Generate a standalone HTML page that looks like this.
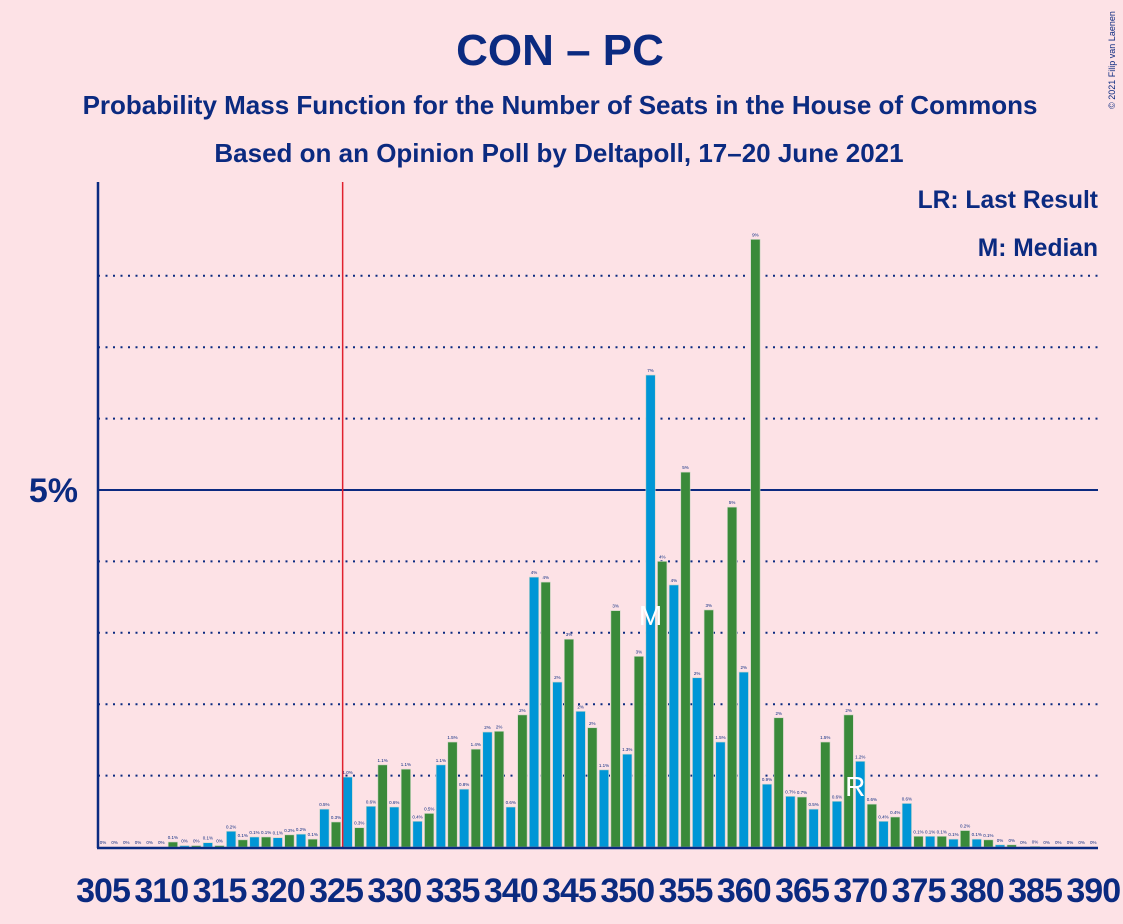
<!DOCTYPE html>
<html><head><meta charset="utf-8"><style>
html,body{margin:0;padding:0;background:#fde2e6;}
svg{display:block;font-family:"Liberation Sans",sans-serif;}
</style></head><body>
<svg id="chart" width="1123" height="924" viewBox="0 0 1123 924" xmlns="http://www.w3.org/2000/svg">
<rect x="0" y="0" width="1123" height="924" fill="#fde2e6"/>
<text x="560" y="65" text-anchor="middle" font-size="44" font-weight="bold" fill="#0b2a80">CON – PC</text>
<text x="560" y="114" text-anchor="middle" font-size="26" font-weight="bold" fill="#0b2a80">Probability Mass Function for the Number of Seats in the House of Commons</text>
<text x="559" y="162" text-anchor="middle" font-size="26" font-weight="bold" fill="#0b2a80">Based on an Opinion Poll by Deltapoll, 17–20 June 2021</text>
<text x="1098" y="208" text-anchor="end" font-size="24.6" font-weight="bold" fill="#0b2a80">LR: Last Result</text>
<text x="1098" y="256" text-anchor="end" font-size="24.6" font-weight="bold" fill="#0b2a80">M: Median</text>
<text x="1115" y="60" transform="rotate(-90 1115 60)" text-anchor="middle" font-size="9" fill="#0b2a80">© 2021 Filip van Laenen</text>
<g id="grid"></g>
<g id="bars"></g>
<g id="labels"></g>
<g id="xaxis"></g>
</svg>
<script>
const seats = [305,306,307,308,309,310,311,312,313,314,315,316,317,318,319,320,321,322,323,324,325,326,327,328,329,330,331,332,333,334,335,336,337,338,339,340,341,342,343,344,345,346,347,348,349,350,351,352,353,354,355,356,357,358,359,360,361,362,363,364,365,366,367,368,369,370,371,372,373,374,375,376,377,378,379,380,381,382,383,384,385,386,387,388,389,390];
const probs = [0,0,0,0,0,0,0.07,0.02,0.02,0.06,0.02,0.22,0.1,0.14,0.14,0.13,0.17,0.18,0.11,0.53,0.35,0.98,0.27,0.57,1.15,0.56,1.09,0.36,0.47,1.15,1.47,0.81,1.37,1.61,1.62,0.56,1.85,3.78,3.71,2.31,2.91,1.9,1.67,1.08,3.31,1.3,2.67,6.61,4.0,3.67,5.25,2.37,3.32,1.47,4.76,2.45,8.51,0.88,1.81,0.71,0.7,0.53,1.47,0.64,1.85,1.2,0.6,0.36,0.42,0.61,0.15,0.15,0.15,0.11,0.23,0.11,0.1,0.03,0.03,0,0.01,0,0,0,0,0];
const gridPercents = [1,2,3,4,6,7,8];
const xTicks = [305,310,315,320,325,330,335,340,345,350,355,360,365,370,375,380,385,390];
const lastResult = 326;
const median = 352;

const NS = "http://www.w3.org/2000/svg";
const X0 = 103, STEP = 11.65, BASE = 847, PPP = 71.4;
function xs(s){ return X0 + (s - 305) * STEP; }
function ys(p){ return BASE - p * PPP; }
function mk(tag, attrs, parent){ const e=document.createElementNS(NS,tag); for(const k in attrs) e.setAttribute(k,attrs[k]); parent.appendChild(e); return e; }

const grid = document.getElementById('grid');
gridPercents.forEach(p=>{
  const l = mk('line',{x1:98,x2:1098,y1:ys(p),y2:ys(p),stroke:'#0b2a80','stroke-width':2,'stroke-dasharray':'2,5.5'},grid);
  
  
});
const five = mk('line',{x1:98,x2:1098,y1:ys(5),y2:ys(5),stroke:'#0b2a80','stroke-width':2},grid);


const fl = mk('text',{x:78,y:ys(5)+12,'text-anchor':'end','font-size':34,'font-weight':'bold',fill:'#0b2a80'},grid);
fl.textContent='5%';



const bars = document.getElementById('bars');
const labels = document.getElementById('labels');
seats.forEach((s,i)=>{
  const p = probs[i];
  const h = p*PPP;
  const r = mk('rect',{x:xs(s)-4.7,y:BASE-h,width:9.4,height:h,fill:(s%2===0)?'#0096d6':'#3a8a3a',stroke:'#cfd7c8','stroke-width':0.6},bars);
  
  
  const t = mk('text',{x:xs(s),y:BASE-h-3,'text-anchor':'middle','font-size':4.5,fill:'#0b2a80'},labels);
  let txt;
  if (p < 0.05) txt = '0%';
  else if (p < 1.5) txt = p.toFixed(1) + '%';
  else txt = Math.round(p) + '%';
  t.textContent = txt;
  
  
});
const mi = seats.indexOf(median);
const mt = mk('text',{x:xs(median),y:ys(probs[mi])+250,'text-anchor':'middle','font-size':28,fill:'#ffffff'},labels);
mt.textContent='M';


const rt = mk('text',{x:xs(370)-5,y:BASE-0.6*PPP-8,'text-anchor':'middle','font-size':28,fill:'#ffffff'},labels);
rt.textContent='R';



const xa = document.getElementById('xaxis');
const lr = mk('line',{x1:xs(lastResult)-5,x2:xs(lastResult)-5,y1:182,y2:BASE,stroke:'#e0202e','stroke-width':1.5},xa);


const ya = mk('line',{x1:98,x2:98,y1:182,y2:BASE+1,stroke:'#0b2a80','stroke-width':2.5},xa);


const xl = mk('line',{x1:97,x2:1098,y1:BASE+1,y2:BASE+1,stroke:'#0b2a80','stroke-width':2.5},xa);


xTicks.forEach(s=>{
  const t = mk('text',{x:xs(s),y:902,'text-anchor':'middle','font-size':34,'font-weight':'bold',fill:'#0b2a80','letter-spacing':'-1'},xa);
  t.textContent=s;
  
  
});
</script>
</body></html>
